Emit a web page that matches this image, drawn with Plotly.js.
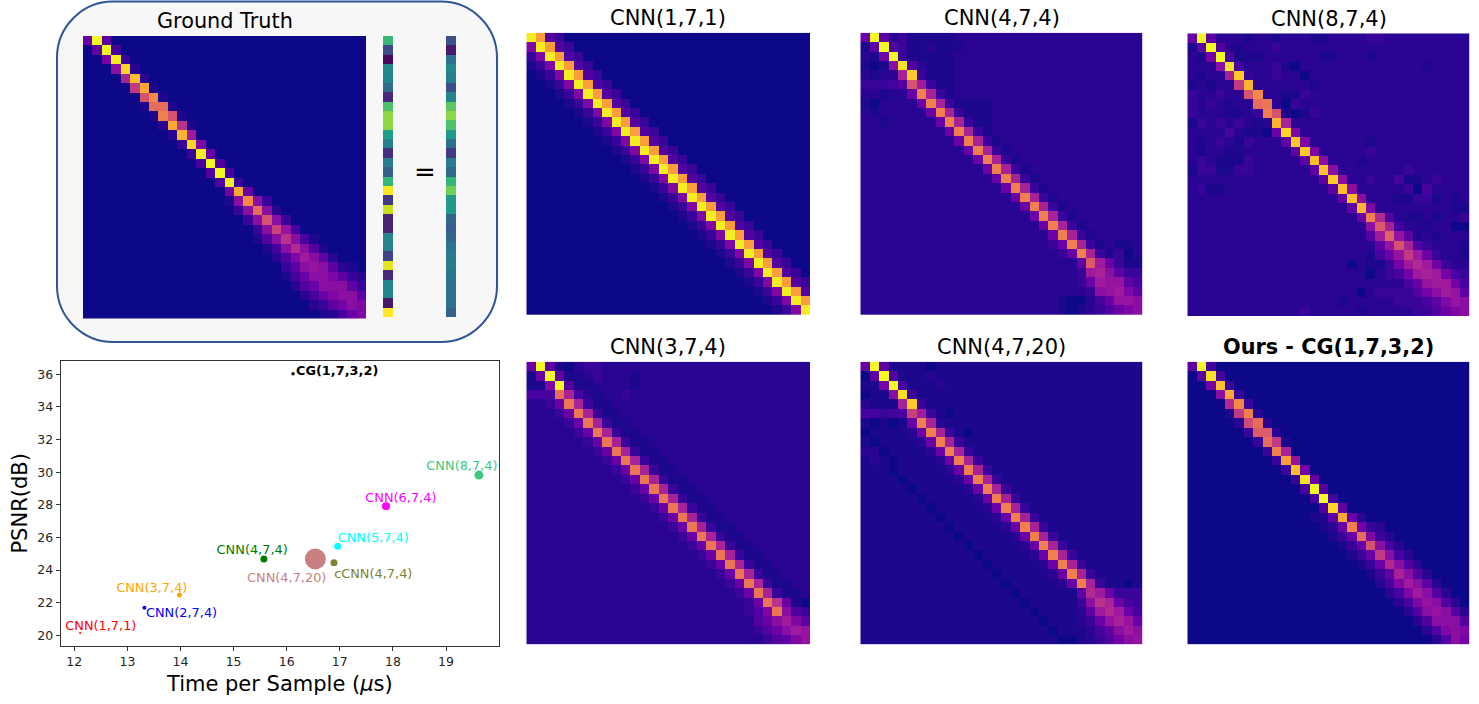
<!DOCTYPE html>
<html>
<head>
<meta charset="utf-8">
<script src="https://cdn.plot.ly/plotly-3.0.1.min.js"></script>
<style>body { margin: 0; background: #fff; }</style>
</head>
<body>
<div id="chart" style="width:1479px;height:704px;"></div>
<script>
//// Values
// Scatter: PSNR against time per sample
var modelNames = ["CNN(1,7,1)", "CNN(2,7,4)", "CNN(3,7,4)", "CNN(4,7,4)", "CNN(4,7,20)", "cCNN(4,7,4)", "CNN(5,7,4)", "CNN(6,7,4)", "CNN(8,7,4)", "CG(1,7,3,2)"];
var timePerSample = [12.11, 13.32, 13.98, 15.57, 16.54, 16.89, 16.96, 17.87, 19.62, 16.12];
var psnr = [20.14, 21.68, 22.47, 24.68, 24.68, 24.44, 25.46, 27.91, 29.82, 36.03];
var pointSizes = [2, 4, 5, 7, 21, 7, 7, 8, 9, 3.5];
var pointColors = ["#ff0000", "#0000ff", "#ffa500", "#007a00", "#c98080", "#80802f", "#00ffff", "#ff00ff", "#3cc97f", "#000000"];
// Where each label sits, in axis units
var labelX = [12.50, 14.02, 13.46, 15.35, 16.00, 17.63, 17.63, 18.15, 19.30, 16.95];
var labelY = [20.51, 21.29, 22.88, 25.16, 23.44, 23.70, 25.89, 28.35, 30.35, 36.16];

// Vector strips next to the ground truth (0 to 1, viridis)
var inputVector = [0.67, 0.22, 0.02, 0.47, 0.45, 0.35, 0.12, 0.72, 0.83, 0.83, 0.57, 0.43, 0.13, 0.42, 0.30, 0.66, 1.00, 0.17, 0.92, 0.10, 0.10, 0.46, 0.44, 0.20, 0.96, 0.12, 0.45, 0.45, 0.06, 1.00];
var outputVector = [0.24, 0.07, 0.38, 0.46, 0.43, 0.24, 0.45, 0.75, 0.83, 0.72, 0.55, 0.37, 0.17, 0.41, 0.33, 0.66, 0.78, 0.53, 0.54, 0.33, 0.29, 0.33, 0.38, 0.41, 0.42, 0.40, 0.38, 0.38, 0.36, 0.31];

// Matrices: one string per row, one base 36 digit per cell (0 = bottom of plasma, z = top)
var groundTruth = [
    "7z60000000 0000000000 0000000000",
    "06z4000000 0000000000 0000000000",
    "008y300000 0000000000 0000000000",
    "000aw20000 0000000000 0000000000",
    "0000du2000 0000000000 0000000000",
    "00000gs100 0000000000 0000000000",
    "000000jp10 0000000000 0000000000",
    "0000001mm1 0000000000 0000000000",
    "00000001oj 1000000000 0000000000",
    "000000002s f100000000 0000000000",
    "0000000002 tc00000000 0000000000",
    "0000000000 3w90000000 0000000000",
    "0000000000 03y7000000 0000000000",
    "0000000000 004z500000 0000000000",
    "0000000000 0005z40000 0000000000",
    "0000000000 00005y3000 0000000000",
    "0000000000 000008s700 0000000000",
    "0000000000 000001apa3 0000000000",
    "0000000000 0000003ama 2000000000",
    "0000000000 00000003aj a300000000",
    "0000000000 000000003a hb40000000",
    "0000000000 0000000015 afa4100000",
    "0000000000 0000000001 4aea510000",
    "0000000000 0000000000 259ca62000",
    "0000000000 0000000000 036aba6210",
    "0000000000 0000000000 0147aa9632",
    "0000000000 0000000000 00257aaa63",
    "0000000000 0000000000 0002479aa6",
    "0000000000 0000000000 00002368a9",
    "0000000000 0000000000 0000012479"
];
var cnn171 = [
    "yr53000000 0000000000 0000000000",
    "9yr5300000 0000000000 0000000000",
    "39yr530000 0000000000 0000000000",
    "139yr53000 0000000000 0000000000",
    "0139yr5300 0000000000 0000000000",
    "00139yr530 0000000000 0000000000",
    "000139yr53 0000000000 0000000000",
    "0000139yr5 3000000000 0000000000",
    "00000139yr 5300000000 0000000000",
    "000000139y r530000000 0000000000",
    "0000000139 yr53000000 0000000000",
    "0000000013 9yr5300000 0000000000",
    "0000000001 39yr530000 0000000000",
    "0000000000 139yr53000 0000000000",
    "0000000000 0139yr5300 0000000000",
    "0000000000 00139yr530 0000000000",
    "0000000000 000139yr53 0000000000",
    "0000000000 0000139yr5 3000000000",
    "0000000000 00000139yr 5300000000",
    "0000000000 000000139y r530000000",
    "0000000000 0000000139 yr53000000",
    "0000000000 0000000013 9yr5300000",
    "0000000000 0000000001 39yr530000",
    "0000000000 0000000000 139yr53000",
    "0000000000 0000000000 0139yr5300",
    "0000000000 0000000000 00139yr530",
    "0000000000 0000000000 000139yr53",
    "0000000000 0000000000 0000139yr5",
    "0000000000 0000000000 00000139yr",
    "0000000000 0000000000 000000139y"
];
var cnn474 = [
    "7z62311111 2222222222 2222222222",
    "16z5311211 1222222222 2222222222",
    "218z311111 2222222222 2222222222",
    "101ax52111 2222222222 2222222222",
    "2122dv3111 2222222222 2222222222",
    "33345jc311 2222222222 2222222222",
    "221227od31 2222222222 2222222222",
    "1022227od3 1111222222 2222222222",
    "21222227od 3111222222 2222222222",
    "221222227o d311222222 2222222222",
    "2222222227 od31222222 2222222222",
    "2222222222 7od3122222 2222222222",
    "2222222222 27od312222 2222222222",
    "2222222222 227od31222 2222222222",
    "2222222222 2227od3122 2222222222",
    "2222222222 22227od312 2222222222",
    "2222222222 222227od31 2222222222",
    "2222222222 2222227od3 1222222222",
    "2222222222 22222227od 3122222222",
    "2222222222 222222227o d312222222",
    "2222222222 2222222227 od31222222",
    "2222222222 2222222222 7od3122222",
    "2222222222 2222222222 37od312112",
    "2222222222 2222222222 237od31302",
    "2222222222 2222222222 2226kc7311",
    "2222222222 2222222222 2223cda633",
    "2222222222 2222222222 22237cbb64",
    "2222222222 2222222222 22223abc96",
    "2222222222 2222222222 2100247bba",
    "2222222222 2222222222 210123579a"
];
var cnn874 = [
    "7z62221221 2221122223 3222222222",
    "16z5212223 2222222222 2222222222",
    "218z411122 2222112221 2222222222",
    "222ax42223 1022222222 2222212222",
    "2122dv3223 2202222222 2222222222",
    "12122gt222 2221222222 2222222222",
    "322322jp22 1132222222 2222222222",
    "3232122mn2 0322222222 2222222222",
    "32221123oj 1013222222 2222222222",
    "132323212t d222222222 2222222222",
    "2222421107 w922222222 2222222222",
    "2123213222 6v92222221 2222222222",
    "2122112222 26v9222223 2222222222",
    "2321113222 226ua22212 2222222222",
    "1331133222 2226ua2222 2223222222",
    "2222222222 22226va223 2241123222",
    "2311222222 222226ua22 2223042222",
    "2222222222 2222226ua2 2211331212",
    "2222222222 22222226t9 2222222211",
    "2222222222 222222227o e521121223",
    "2222222222 222222222a kd42212200",
    "2222222222 2222222225 clb6121222",
    "2222222222 2222222222 6bjd532221",
    "2222222222 2222222221 47bgc73221",
    "2222222222 2222222021 138cec8322",
    "2222222222 2222222220 2348cdc843",
    "2222222222 2222222222 22247bcc84",
    "2222222222 2222222202 333358acb6",
    "2222222222 2222221222 22333469ba",
    "2222222222 2232222212 222233579a"
];
var cnn374 = [
    "7z61023322 2222222222 2222222222",
    "17z6112322 2122222222 2222222222",
    "119z511222 2122222222 2222222222",
    "444md42122 3222222222 2222222222",
    "2237nd3112 2222222222 2222222222",
    "22237nd311 2222222222 2222222222",
    "222237nd31 1222222222 2222222222",
    "2222237nd3 1122222222 2222222222",
    "22222237nd 3112222222 2222222222",
    "222222237n d311222222 2222222222",
    "2222222237 nd31122222 2222222222",
    "2222222223 7nd3112222 2222222222",
    "2222222222 37nd311222 2222222222",
    "2222222222 237nd31122 2222222222",
    "2222222222 2237nd3112 2222222222",
    "2222222222 22237nd311 2222222222",
    "2222222222 222237nd31 1222222222",
    "2222222222 2222237nd3 1122222222",
    "2222222222 22222237nd 3112222222",
    "2222222222 222222237n d311222222",
    "2222222222 2222222237 nd31122222",
    "2222222222 2222222223 7nd3112222",
    "2222222222 2222222222 37nd311222",
    "2222222222 2222222222 237nd31122",
    "2222222222 2222222222 2237nd3112",
    "2222222222 2222222222 22237nf710",
    "2222222222 2222222222 222359na53",
    "2222222222 2222222222 222257ac96",
    "2222222222 2222222222 2222357acb",
    "2222222222 2222222222 222223569b"
];
var cnn4720 = [
    "7z61111011 1111111111 1111111111",
    "06z5111211 1111111111 1111111111",
    "118z411121 1111111111 1111111111",
    "011ax31111 1111111111 1111111111",
    "2111dv3111 1111111111 1111111111",
    "44344hc310 1111111111 1111111111",
    "101017od21 1111111111 1111111111",
    "0111127od3 1011111111 1111111111",
    "10111127od 3111111111 1111111111",
    "220111127o d311111111 1111111111",
    "1210111127 od31111111 1111111111",
    "1110111112 7od3111111 1111111111",
    "1111011111 27od311111 1111111111",
    "1111101111 127od31111 1111111111",
    "1111110111 1127od3111 1111111111",
    "1111111011 11127od311 1111111111",
    "1111111101 111127od31 1111111111",
    "1111111110 1111127od3 1111111111",
    "1111111111 01111127od 3111111111",
    "1111111111 101111127o d311111111",
    "1111111111 1101111127 od31111111",
    "1111111111 1110111112 7od3111111",
    "1111111111 1111011111 27od311111",
    "1111111111 1111101111 127od31101",
    "1111111111 1111110111 1116ec7333",
    "1111111111 1111111011 1113afd743",
    "1111111111 1111111101 11126cec74",
    "1111111111 1111111110 111237bdb7",
    "1111111111 1111111111 0111246aca",
    "1111111111 1111111111 10012358ab"
];
var cg1732 = [
    "6z40000000 0000000000 0000000000",
    "06x4000000 0000000000 0000000000",
    "008u300000 0000000000 0000000000",
    "000as30000 0000000000 0000000000",
    "0000ep3000 0000000000 0000000000",
    "00001go200 0000000000 0000000000",
    "000002im20 0000000000 0000000000",
    "0000003kk2 0000000000 0000000000",
    "00000003mg 1000000000 0000000000",
    "000000003o d000000000 0000000000",
    "0000000003 rb00000000 0000000000",
    "0000000000 3u80000000 0000000000",
    "0000000000 03x7000000 0000000000",
    "0000000000 004z500000 0000000000",
    "0000000000 0004z40000 0000000000",
    "0000000000 00005w6000 0000000000",
    "0000000000 000116s720 0000000000",
    "0000000000 0000127o83 2000000000",
    "0000000000 00000137m9 3200000000",
    "0000000000 000000137j a420000000",
    "0000000000 0000000137 ga42000000",
    "0000000000 0000000013 7ea5200000",
    "0000000000 0000000001 36da520000",
    "0000000000 0000000000 249ca62000",
    "0000000000 0000000000 0249ca5200",
    "0000000000 0000000000 00249ba520",
    "0000000000 0000000000 00025aba52",
    "0000000000 0000000000 000025aaa5",
    "0000000000 0000000000 00000259a9",
    "0000000000 0000000000 00000025a8"
];

var plasma = [[0, "#0d0887"], [0.111, "#46039f"], [0.222, "#7201a8"], [0.333, "#9c179e"], [0.444, "#bd3786"], [0.556, "#d8576b"], [0.667, "#ed7953"], [0.778, "#fb9f3a"], [0.889, "#fdca26"], [1, "#f0f921"]];

var W = 1479;
var H = 704;
function px(x) { return x / W; }
function py(y) { return 1 - y / H; }

function decode(rows) {
    return rows.map(function (row) {
        return row.replace(/ /g, "").split("").map(function (c) {
            return parseInt(c, 36) / 35;
        });
    });
}
function column(values) {
    return values.map(function (v) { return [v]; });
}

var traces = [];
var layout = {
    width: W,
    height: H,
    margin: { l: 0, r: 0, t: 0, b: 0 },
    paper_bgcolor: "#ffffff",
    plot_bgcolor: "#ffffff",
    font: { family: "DejaVu Sans", color: "#000000" },
    showlegend: false,
    annotations: [],
    shapes: []
};

// Adds a heatmap on its own pair of hidden axes, box given in page pixels
var axisCount = 1; // axis 1 is the scatter
function addHeatmap(z, colorscale, x0, y0, x1, y1) {
    axisCount++;
    traces.push({
        type: "heatmap",
        z: z,
        xaxis: "x" + axisCount,
        yaxis: "y" + axisCount,
        colorscale: colorscale,
        zmin: 0,
        zmax: 1,
        showscale: false,
        hoverinfo: "skip"
    });
    var hidden = { visible: false, fixedrange: true };
    layout["xaxis" + axisCount] = Object.assign({ domain: [px(x0), px(x1)], anchor: "y" + axisCount }, hidden);
    layout["yaxis" + axisCount] = Object.assign({ domain: [py(y1), py(y0)], anchor: "x" + axisCount, autorange: "reversed" }, hidden);
}

function addTitle(text, x, y, size) {
    layout.annotations.push({
        text: text,
        xref: "paper",
        yref: "paper",
        x: px(x),
        y: py(y),
        xanchor: "center",
        yanchor: "middle",
        showarrow: false,
        font: { family: "DejaVu Sans", size: size, color: "#000000" }
    });
}

// Heatmaps
addHeatmap(decode(groundTruth), plasma, 83, 36, 366, 318.5);
addHeatmap(column(inputVector), "Viridis", 383, 36, 393, 317);
addHeatmap(column(outputVector), "Viridis", 446, 36, 456, 317);
addHeatmap(decode(cnn171), plasma, 526.3, 32.7, 810, 315);
addHeatmap(decode(cnn474), plasma, 860.3, 32.7, 1142.7, 315);
addHeatmap(decode(cnn874), plasma, 1187.3, 33.3, 1469.7, 316);
addHeatmap(decode(cnn374), plasma, 526.3, 361.7, 810, 644.3);
addHeatmap(decode(cnn4720), plasma, 860.3, 361.7, 1142.7, 644.3);
addHeatmap(decode(cg1732), plasma, 1187.3, 361.7, 1469.7, 644.3);

// Scatter
traces.push({
    type: "scatter",
    mode: "markers",
    x: timePerSample,
    y: psnr,
    xaxis: "x",
    yaxis: "y",
    marker: { size: pointSizes, color: pointColors, opacity: 1, line: { width: 0 } },
    text: modelNames,
    hoverinfo: "text"
});
traces.push({
    type: "scatter",
    mode: "text",
    x: labelX,
    y: labelY,
    xaxis: "x",
    yaxis: "y",
    text: modelNames.map(function (n) { return n === "CG(1,7,3,2)" ? "<b>" + n + "</b>" : n; }),
    textposition: "middle center",
    textfont: { family: "DejaVu Sans", size: 12.9, color: pointColors },
    cliponaxis: false,
    hoverinfo: "skip"
});
layout.xaxis = {
    domain: [px(60.7), px(499)],
    anchor: "y",
    range: [11.744, 19.998],
    tickmode: "linear",
    tick0: 12,
    dtick: 1,
    ticks: "outside",
    ticklen: 4,
    tickcolor: "#333333",
    tickfont: { family: "DejaVu Sans", size: 12.5, color: "#262626" },
    showgrid: false,
    zeroline: false,
    showline: true,
    mirror: true,
    linecolor: "#333333",
    linewidth: 1,
    title: { text: "Time per Sample (<i>μ</i>s)", font: { family: "DejaVu Sans", size: 21, color: "#000000" }, standoff: 8 }
};
layout.yaxis = {
    domain: [py(645.7), py(361)],
    anchor: "x",
    range: [19.36, 36.815],
    tickmode: "linear",
    tick0: 20,
    dtick: 2,
    ticks: "outside",
    ticklen: 4,
    tickcolor: "#333333",
    tickfont: { family: "DejaVu Sans", size: 12.5, color: "#262626" },
    showgrid: false,
    zeroline: false,
    showline: true,
    mirror: true,
    linecolor: "#333333",
    linewidth: 1,
    title: { text: "PSNR(dB)", font: { family: "DejaVu Sans", size: 21, color: "#000000" }, standoff: 3 }
};

// Rounded panel behind the ground truth
var left = 57, right = 497, top_ = 1.5, bottom = 342, r = 56, k = 0.45 * r;
function pt(x, y) { return px(x) + "," + py(y); }
layout.shapes.push({
    type: "path",
    xref: "paper",
    yref: "paper",
    layer: "below",
    path: "M" + pt(left + r, top_) +
        " L" + pt(right - r, top_) +
        " C" + pt(right - k, top_) + " " + pt(right, top_ + k) + " " + pt(right, top_ + r) +
        " L" + pt(right, bottom - r) +
        " C" + pt(right, bottom - k) + " " + pt(right - k, bottom) + " " + pt(right - r, bottom) +
        " L" + pt(left + r, bottom) +
        " C" + pt(left + k, bottom) + " " + pt(left, bottom - k) + " " + pt(left, bottom - r) +
        " L" + pt(left, top_ + r) +
        " C" + pt(left, top_ + k) + " " + pt(left + k, top_) + " " + pt(left + r, top_) + " Z",
    fillcolor: "#f7f7f7",
    line: { color: "#2f5597", width: 2 }
});

// Titles
addTitle("Ground Truth", 224.5, 21, 20.8);
addTitle("=", 424.5, 172, 26);
addTitle("CNN(1,7,1)", 668, 18, 21);
addTitle("CNN(4,7,4)", 1001.5, 18, 21);
addTitle("CNN(8,7,4)", 1328.5, 19, 21);
addTitle("CNN(3,7,4)", 668, 347, 21);
addTitle("CNN(4,7,20)", 1001.5, 347, 21);
addTitle("<b>Ours - CG(1,7,3,2)</b>", 1328, 347, 20.8);

Plotly.newPlot("chart", traces, layout, { displayModeBar: false });
</script>
</body>
</html>
